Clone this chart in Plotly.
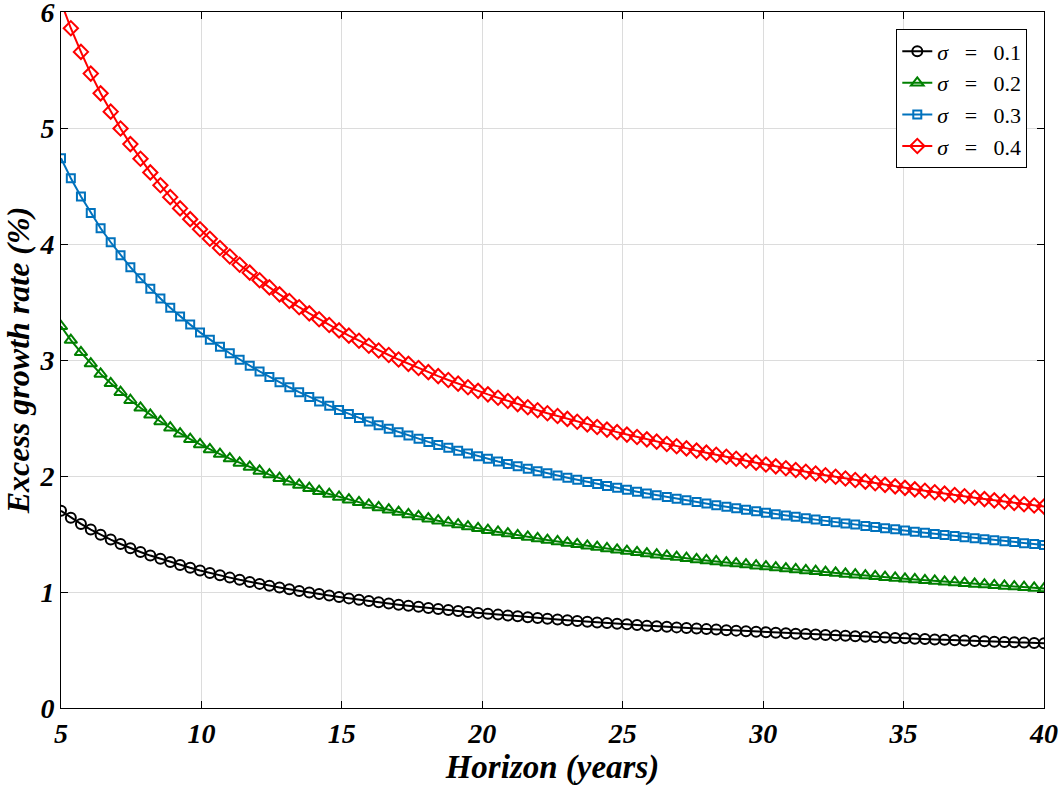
import plotly.graph_objects as go

# horizon in years (100 points from 5 to 40)
horizon = [
    5.00, 5.35, 5.71, 6.06, 6.41, 6.77, 7.12, 7.47, 7.83, 8.18,
    8.54, 8.89, 9.24, 9.60, 9.95, 10.30, 10.66, 11.01, 11.36, 11.72,
    12.07, 12.42, 12.78, 13.13, 13.48, 13.84, 14.19, 14.55, 14.90, 15.25,
    15.61, 15.96, 16.31, 16.67, 17.02, 17.37, 17.73, 18.08, 18.43, 18.79,
    19.14, 19.49, 19.85, 20.20, 20.56, 20.91, 21.26, 21.62, 21.97, 22.32,
    22.68, 23.03, 23.38, 23.74, 24.09, 24.44, 24.80, 25.15, 25.51, 25.86,
    26.21, 26.57, 26.92, 27.27, 27.63, 27.98, 28.33, 28.69, 29.04, 29.39,
    29.75, 30.10, 30.45, 30.81, 31.16, 31.52, 31.87, 32.22, 32.58, 32.93,
    33.28, 33.64, 33.99, 34.34, 34.70, 35.05, 35.40, 35.76, 36.11, 36.46,
    36.82, 37.17, 37.53, 37.88, 38.23, 38.59, 38.94, 39.29, 39.65, 40.00,
]

# excess growth rate (%) per sigma
rate_01 = [
    1.700, 1.641, 1.587, 1.538, 1.493, 1.452, 1.414, 1.378, 1.345, 1.314,
    1.286, 1.258, 1.233, 1.209, 1.186, 1.164, 1.144, 1.124, 1.105, 1.087,
    1.070, 1.054, 1.039, 1.024, 1.009, 0.995, 0.982, 0.969, 0.957, 0.945,
    0.933, 0.922, 0.912, 0.901, 0.891, 0.881, 0.872, 0.862, 0.854, 0.845,
    0.836, 0.828, 0.820, 0.812, 0.805, 0.797, 0.790, 0.783, 0.776, 0.770,
    0.763, 0.757, 0.750, 0.744, 0.738, 0.732, 0.727, 0.721, 0.716, 0.710,
    0.705, 0.700, 0.695, 0.690, 0.685, 0.680, 0.676, 0.671, 0.667, 0.662,
    0.658, 0.653, 0.649, 0.645, 0.641, 0.637, 0.633, 0.629, 0.626, 0.622,
    0.618, 0.615, 0.611, 0.608, 0.604, 0.601, 0.597, 0.594, 0.591, 0.588,
    0.584, 0.581, 0.578, 0.575, 0.572, 0.569, 0.566, 0.564, 0.561, 0.558,
]
rate_02 = [
    3.290, 3.172, 3.066, 2.969, 2.880, 2.799, 2.723, 2.653, 2.588, 2.527,
    2.470, 2.416, 2.365, 2.317, 2.272, 2.229, 2.189, 2.150, 2.113, 2.078,
    2.044, 2.012, 1.981, 1.951, 1.923, 1.895, 1.869, 1.844, 1.819, 1.796,
    1.773, 1.751, 1.729, 1.709, 1.689, 1.669, 1.651, 1.632, 1.615, 1.598,
    1.581, 1.564, 1.549, 1.533, 1.518, 1.504, 1.489, 1.475, 1.462, 1.448,
    1.436, 1.423, 1.411, 1.398, 1.387, 1.375, 1.364, 1.353, 1.342, 1.331,
    1.321, 1.311, 1.301, 1.291, 1.281, 1.272, 1.263, 1.253, 1.245, 1.236,
    1.227, 1.219, 1.211, 1.202, 1.194, 1.186, 1.179, 1.171, 1.164, 1.156,
    1.149, 1.142, 1.135, 1.128, 1.121, 1.114, 1.108, 1.101, 1.095, 1.088,
    1.082, 1.076, 1.070, 1.064, 1.058, 1.052, 1.047, 1.041, 1.035, 1.030,
]
rate_03 = [
    4.740, 4.567, 4.410, 4.267, 4.136, 4.015, 3.904, 3.800, 3.704, 3.614,
    3.530, 3.450, 3.376, 3.305, 3.238, 3.175, 3.115, 3.058, 3.003, 2.951,
    2.901, 2.854, 2.808, 2.765, 2.723, 2.682, 2.643, 2.606, 2.570, 2.535,
    2.501, 2.469, 2.437, 2.407, 2.377, 2.349, 2.321, 2.294, 2.268, 2.243,
    2.218, 2.194, 2.170, 2.148, 2.125, 2.104, 2.083, 2.062, 2.042, 2.023,
    2.004, 1.985, 1.967, 1.949, 1.931, 1.914, 1.898, 1.881, 1.865, 1.850,
    1.834, 1.819, 1.804, 1.790, 1.776, 1.762, 1.748, 1.735, 1.722, 1.709,
    1.696, 1.684, 1.671, 1.659, 1.648, 1.636, 1.624, 1.613, 1.602, 1.591,
    1.581, 1.570, 1.560, 1.550, 1.540, 1.530, 1.520, 1.510, 1.501, 1.491,
    1.482, 1.473, 1.464, 1.455, 1.447, 1.438, 1.430, 1.421, 1.413, 1.405,
]
rate_04 = [
    6.087, 5.860, 5.656, 5.469, 5.299, 5.141, 4.996, 4.861, 4.735, 4.617,
    4.507, 4.404, 4.307, 4.214, 4.127, 4.045, 3.966, 3.892, 3.821, 3.753,
    3.688, 3.626, 3.566, 3.509, 3.455, 3.402, 3.351, 3.302, 3.255, 3.210,
    3.166, 3.123, 3.082, 3.043, 3.004, 2.967, 2.931, 2.895, 2.861, 2.828,
    2.796, 2.765, 2.734, 2.704, 2.675, 2.647, 2.620, 2.593, 2.567, 2.541,
    2.517, 2.492, 2.468, 2.445, 2.422, 2.400, 2.378, 2.357, 2.336, 2.316,
    2.296, 2.276, 2.257, 2.238, 2.219, 2.201, 2.183, 2.166, 2.149, 2.132,
    2.115, 2.099, 2.083, 2.067, 2.052, 2.037, 2.022, 2.007, 1.993, 1.979,
    1.965, 1.951, 1.937, 1.924, 1.911, 1.898, 1.885, 1.873, 1.860, 1.848,
    1.836, 1.825, 1.813, 1.801, 1.790, 1.779, 1.768, 1.757, 1.746, 1.736,
]

series_names = [
    "<i>σ</i>&nbsp;&nbsp;&nbsp;=&nbsp;&nbsp;&nbsp;0.1",
    "<i>σ</i>&nbsp;&nbsp;&nbsp;=&nbsp;&nbsp;&nbsp;0.2",
    "<i>σ</i>&nbsp;&nbsp;&nbsp;=&nbsp;&nbsp;&nbsp;0.3",
    "<i>σ</i>&nbsp;&nbsp;&nbsp;=&nbsp;&nbsp;&nbsp;0.4",
]

FONT = "Liberation Serif, Times New Roman, serif"

styles = [
    dict(color="black", symbol="circle-open", size=10),
    dict(color="#008000", symbol="triangle-up-open", size=11),
    dict(color="#0072BD", symbol="square-open", size=8),
    dict(color="#FF0000", symbol="diamond-open", size=11),
]

fig = go.Figure()
for name, vals, st in zip(series_names, [rate_01, rate_02, rate_03, rate_04], styles):
    fig.add_trace(go.Scatter(
        x=horizon,
        y=vals,
        mode="lines+markers",
        name=name,
        line=dict(color=st["color"], width=2),
        marker=dict(symbol=st["symbol"], size=st["size"], color=st["color"],
                    line=dict(width=2, color=st["color"])),
    ))

axis_common = dict(
    showline=True,
    linecolor="black",
    linewidth=1,
    mirror="ticks",
    ticks="inside",
    ticklen=7,
    tickcolor="black",
    showgrid=True,
    gridcolor="#dcdcdc",
    gridwidth=1,
    zeroline=False,
    automargin=False,
    ticklabeloverflow="allow",
    tickfont=dict(family=FONT, size=28, color="black", weight="bold", style="italic"),
)

fig.update_layout(
    width=1063,
    height=795,
    paper_bgcolor="white",
    plot_bgcolor="white",
    margin=dict(l=61, r=19, t=12, b=87),
    xaxis=dict(
        range=[5, 40],
        dtick=5,
        title=dict(text="<b><i>Horizon (years)</i></b>",
                   font=dict(family=FONT, size=33, color="black"), standoff=4),
        **axis_common,
    ),
    yaxis=dict(
        range=[0, 6],
        dtick=1,
        title=dict(text="<b><i>Excess growth rate (%)</i></b>",
                   font=dict(family=FONT, size=32, color="black"), standoff=4),
        **axis_common,
    ),
    legend=dict(
        x=0.983, y=0.975, xanchor="right", yanchor="top",
        bgcolor="white",
        bordercolor="black",
        borderwidth=1,
        font=dict(family=FONT, size=22, color="black"),
        tracegroupgap=0,
    ),
    showlegend=True,
)

# drop the default 8px page margin so the figure sits at the window's corner
fig.write_html("out.html", config={"displayModeBar": False},
               post_script="document.body.style.margin='0';")
